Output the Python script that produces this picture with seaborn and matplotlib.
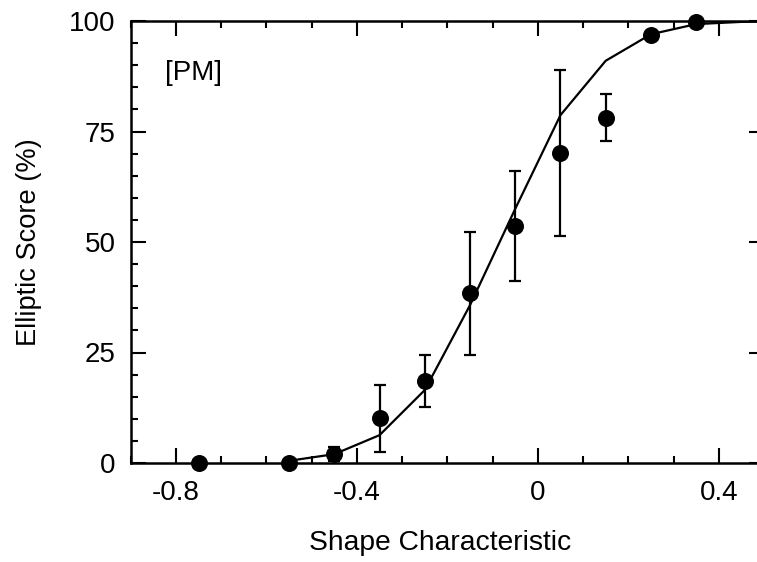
import matplotlib
matplotlib.use("Agg")
import matplotlib.pyplot as plt
import seaborn as sns
import pandas as pd
from matplotlib.ticker import MultipleLocator

# Data
shape_x = [-0.75, -0.55, -0.45, -0.35, -0.25, -0.15, -0.05, 0.05, 0.15, 0.25, 0.35]
score_y = [0.0, 0.0, 2.0, 10.1, 18.6, 38.4, 53.6, 70.1, 78.1, 96.8, 99.7]
score_err = [0.0, 0.0, 1.6, 7.6, 5.9, 13.9, 12.4, 18.8, 5.3, 0.0, 0.0]

fit_x = [-0.55, -0.45, -0.35, -0.25, -0.15, -0.05, 0.05, 0.15, 0.25, 0.35, 0.45, 0.55]
fit_y = [0.5, 2.0, 6.3, 16.5, 35.7, 57.5, 78.7, 91.0, 97.0, 99.3, 99.8, 100.0]

x_ticks = [-0.8, -0.4, 0.0, 0.4]
x_tick_labels = ["-0.8", "-0.4", "0", "0.4"]
y_ticks = [0, 25, 50, 75, 100]
y_tick_labels = ["0", "25", "50", "75", "100"]

pts = pd.DataFrame({"x": shape_x, "y": score_y, "err": score_err})
fit = pd.DataFrame({"x": fit_x, "y": fit_y})

sns.set_style("ticks")
plt.rcParams["font.family"] = ["Liberation Sans", "DejaVu Sans"]
FS_TICK = 20
FS_XLAB = 20.3
FS_YLAB = 19.6

fig = plt.figure(figsize=(7.57, 5.62), dpi=100)
W, H = 757, 562
left_px, right_px, bottom_px, top_px = 130.75, 764.0, 463.0, 21.0
ax = fig.add_axes([left_px / W, (H - bottom_px) / H,
                   (right_px - left_px) / W, (bottom_px - top_px) / H])

sns.lineplot(data=fit, x="x", y="y", ax=ax, color="black", linewidth=1.6,
             estimator=None, sort=False, zorder=2)
ax.errorbar(pts["x"], pts["y"], yerr=pts["err"], fmt="none", ecolor="black",
            elinewidth=1.6, capsize=4.3, capthick=1.6, zorder=3, clip_on=False)
sns.scatterplot(data=pts, x="x", y="y", ax=ax, color="black", s=150,
                edgecolor="black", linewidth=0, zorder=4, clip_on=False)

ax.set_xlim(-0.9, 0.5)
ax.set_ylim(0, 100)
ax.set_xticks(x_ticks)
ax.set_xticklabels(x_tick_labels)
ax.set_yticks(y_ticks)
ax.set_yticklabels(y_tick_labels)
ax.xaxis.set_minor_locator(MultipleLocator(0.1))
ax.yaxis.set_minor_locator(MultipleLocator(5))

for s in ax.spines.values():
    s.set_visible(True)
    s.set_linewidth(1.8)
    s.set_color("black")

ax.tick_params(which="both", direction="in", top=True, right=True,
               color="black", width=1.5, labelsize=FS_TICK, labelcolor="black")
ax.tick_params(which="major", length=10.5)
ax.tick_params(which="minor", length=5)
ax.tick_params(axis="x", which="major", pad=12)
ax.tick_params(axis="y", which="major", pad=11)

ax.set_xlabel("Shape Characteristic", fontsize=FS_XLAB, color="black")
ax.set_ylabel("Elliptic Score (%)", fontsize=FS_YLAB, color="black")
ax.xaxis.set_label_coords(0.488, -0.152)
ax.yaxis.set_label_coords(-0.140, 0.5)

ax.text(-0.824, 86.7, "[PM]", fontsize=FS_TICK, ha="left", va="baseline", color="black")

fig.savefig("out.png", dpi=100)
